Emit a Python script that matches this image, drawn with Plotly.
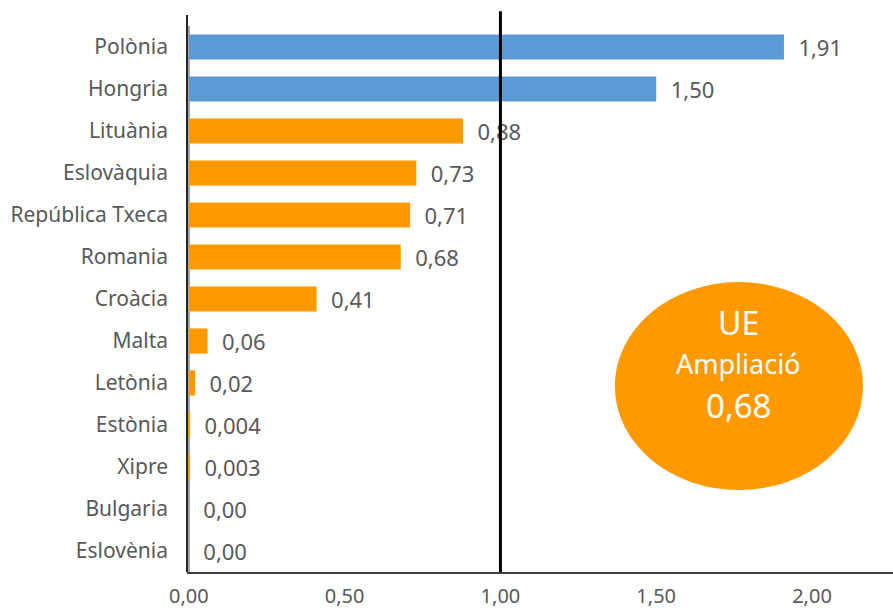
import plotly.graph_objects as go

# Countries, top to bottom
countries = ["Polònia", "Hongria", "Lituània", "Eslovàquia", "República Txeca",
             "Romania", "Croàcia", "Malta", "Letònia", "Estònia", "Xipre",
             "Bulgaria", "Eslovènia"]
values = [1.91, 1.50, 0.88, 0.73, 0.71, 0.68, 0.41, 0.06, 0.02, 0.004, 0.003, 0.0, 0.0]
bar_colors = ["#5B9BD5", "#5B9BD5"] + ["#FF9900"] * 11

eu_label = "UE"
eu_sub = "Ampliació"
eu_value = 0.68
reference_value = 1.00

x_ticks = [0.0, 0.5, 1.0, 1.5, 2.0]


def fmt(v):
    digits = 3 if 0 < v < 0.01 else 2
    return f"{v:.{digits}f}".replace(".", ",")


labels = ["\u00a0\u00a0" + fmt(v) for v in values]

fig = go.Figure(
    go.Bar(
        y=countries,
        x=values,
        orientation="h",
        marker=dict(color=bar_colors, line=dict(width=0)),
        text=labels,
        textposition="outside",
        constraintext="none",
        cliponaxis=False,
        textfont=dict(family="Noto Sans", size=22, color="#595959"),
        hoverinfo="skip",
    )
)

fig.update_layout(
    width=893,
    height=610,
    margin=dict(l=187, r=0, t=26, b=38),
    paper_bgcolor="white",
    plot_bgcolor="white",
    showlegend=False,
    bargap=0.4,
    font=dict(family="Noto Sans", color="#595959"),
    xaxis=dict(
        range=[-0.006, 2.26],
        tickvals=x_ticks,
        ticktext=[fmt(t) for t in x_ticks],
        tickfont=dict(size=20, color="#595959"),
        showgrid=False,
        zeroline=True,
        zerolinecolor="#A6A6A6",
        zerolinewidth=1.5,
        showline=True,
        linecolor="#404040",
        linewidth=1.5,
        ticks="",
        ticklabelstandoff=5,
        automargin=False,
        fixedrange=True,
    ),
    yaxis=dict(
        categoryorder="array",
        categoryarray=countries[::-1],
        tickfont=dict(size=21, color="#595959"),
        showgrid=False,
        zeroline=False,
        showline=False,
        ticks="",
        ticklabelstandoff=18,
        automargin=False,
        fixedrange=True,
    ),
)

# Left axis line and reference line at 1,00
fig.add_shape(type="line", xref="paper", yref="paper", x0=0, x1=0, y0=0, y1=1.02,
              line=dict(color="#262626", width=2), layer="above")
fig.add_shape(type="line", xref="x", yref="paper", x0=reference_value, x1=reference_value,
              y0=0, y1=1.027, line=dict(color="black", width=3), layer="above")

# EU enlargement bubble
fig.add_shape(type="circle", xref="paper", yref="paper",
              x0=0.606, x1=0.9575, y0=0.150, y1=0.531,
              fillcolor="#FF9900", line=dict(width=0), layer="above")

bubble_x = 0.781
bubble_lines = [(eu_label, 322, 32), (eu_sub, 363, 27), (fmt(eu_value), 405, 33)]
for txt, ypix, size in bubble_lines:
    fig.add_annotation(xref="paper", yref="paper", x=bubble_x, y=(572 - ypix) / 546,
                       xanchor="center", yanchor="middle",
                       text=txt, showarrow=False,
                       font=dict(family="Noto Sans", size=size, color="white"))

fig.write_html("out.html")
